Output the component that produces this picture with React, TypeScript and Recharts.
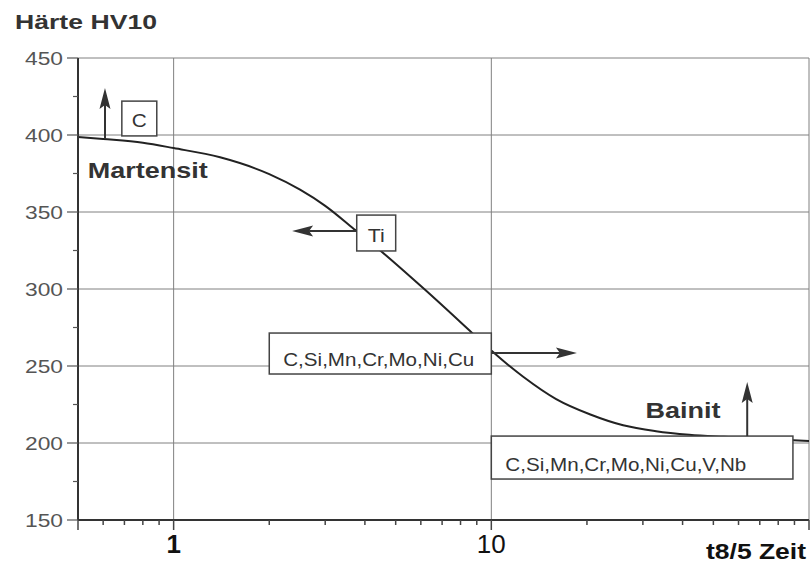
import React from "react";
import {
  LineChart,
  Line,
  XAxis,
  YAxis,
  CartesianGrid,
  ReferenceArea,
  ReferenceLine,
  ReferenceDot,
} from "recharts";

// t8/5 Abkühlzeit (s) und Härte HV10
const coolingTimes = [0.5, 0.6, 0.8, 1, 1.4, 2, 2.5, 3, 3.67, 4.5, 6.2, 8.7, 10, 12.6, 16, 20.5, 26, 33, 42, 54, 70, 100];
const hardness = [398.7, 397.4, 395, 391.5, 385.5, 374.6, 364.5, 354, 339.5, 324.5, 299.3, 271.5, 260, 243, 228.5, 218.5, 211.5, 207.7, 205.4, 204, 202.8, 201.3];

const xTicks = [0.5, 0.6, 0.7, 0.8, 0.9, 1, 2, 3, 4, 5, 6, 7, 8, 9, 10, 20, 30, 40, 50, 60, 70, 80, 90, 100];
const xTickLabels: Record<number, string> = { 1: "1", 10: "10" };
const xMajor = [0.5, 1, 10, 100];
const xGrid = [1, 10, 100];

const yTicks = [150, 175, 200, 225, 250, 275, 300, 325, 350, 375, 400, 425, 450];
const yGrid = [200, 250, 300, 350, 400, 450];

// Kästen mit Legierungselementen (Datenkoordinaten)
const boxes = [
  { text: "C", x1: 0.687, x2: 0.885, y1: 399.4, y2: 422 },
  { text: "Ti", x1: 3.77, x2: 5.0, y1: 324.7, y2: 348 },
  { text: "C,Si,Mn,Cr,Mo,Ni,Cu", x1: 2.0, x2: 10, y1: 244.8, y2: 271.4 },
  { text: "C,Si,Mn,Cr,Mo,Ni,Cu,V,Nb", x1: 10, x2: 89, y1: 176.6, y2: 204.5 },
];

// Pfeile: Start -> Spitze
const arrows = [
  { from: [0.608, 397.4], to: [0.608, 430.5] },
  { from: [3.77, 337.7], to: [2.36, 337.7] },
  { from: [10, 258.4], to: [18.6, 258.4] },
  { from: [63.9, 204.5], to: [63.9, 239.6] },
];

const phases = [
  { text: "Martensit", x: 0.537, y: 372 },
  { text: "Bainit", x: 30.6, y: 216 },
];

const data = coolingTimes.map((t, i) => ({ t, hv: hardness[i] }));

const FONT = "'Liberation Sans', Arial, sans-serif";
const textWidths: Record<string, number> = {
  C: 15,
  Ti: 17,
  "C,Si,Mn,Cr,Mo,Ni,Cu": 191,
  "C,Si,Mn,Cr,Mo,Ni,Cu,V,Nb": 241,
  Martensit: 120,
  Bainit: 75,
};

const XTick = (props: any) => {
  const { x, y, payload } = props;
  const v = payload.value;
  const major = xMajor.includes(v);
  const label = xTickLabels[v];
  return (
    <g>
      <line x1={x} x2={x} y1={y} y2={y + (major ? 10 : 5)} stroke="#444" strokeWidth={1.5} />
      {label && (
        <text
          x={x}
          y={y + 33}
          textAnchor="middle"
          fontFamily={FONT}
          fontSize={26}
          fontWeight={v === 1 ? 700 : 400}
          fill="#111"
        >
          {label}
        </text>
      )}
    </g>
  );
};

const YTick = (props: any) => {
  const { x, y, payload } = props;
  const v = payload.value;
  const major = v % 50 === 0;
  return (
    <g>
      <line x1={x} x2={x - (major ? 11 : 5)} y1={y} y2={y} stroke="#555" strokeWidth={1.2} />
      {major && (
        <text
          x={63}
          y={y + 7}
          textAnchor="end"
          fontFamily={FONT}
          fontSize={19}
          fill="#555"
          textLength={38}
          lengthAdjust="spacingAndGlyphs"
        >
          {v}
        </text>
      )}
    </g>
  );
};

const Arrow = (props: any) => {
  const { x1, y1, x2, y2 } = props;
  const dx = x2 - x1;
  const dy = y2 - y1;
  const len = Math.sqrt(dx * dx + dy * dy) || 1;
  const ux = dx / len;
  const uy = dy / len;
  const head = 21;
  const half = 5.5;
  const bx = x2 - ux * head;
  const by = y2 - uy * head;
  const pts = `${x2},${y2} ${bx - uy * half},${by + ux * half} ${bx + ux * 4},${by + uy * 4} ${bx + uy * half},${by - ux * half}`;
  return (
    <g>
      <line x1={x1} y1={y1} x2={bx + ux * 4} y2={by + uy * 4} stroke="#333" strokeWidth={2} />
      <polygon points={pts} fill="#333" />
    </g>
  );
};

const boxShape = (text: string) => (props: any) => {
  const { x, y, width, height } = props;
  const short = text.length <= 2;
  return (
    <g>
      <rect x={x} y={y} width={width} height={height} fill="#fff" stroke="#444" strokeWidth={1.5} />
      <text
        x={short ? x + width / 2 : x + 14}
        y={y + height - (short ? 9 : 8)}
        textAnchor={short ? "middle" : "start"}
        fontFamily={FONT}
        fontSize={18}
        fill="#333"
        textLength={textWidths[text]}
        lengthAdjust="spacingAndGlyphs"
      >
        {text}
      </text>
    </g>
  );
};

const phaseShape = (text: string) => (props: any) => {
  const { cx, cy } = props;
  return (
    <text
      x={cx}
      y={cy}
      fontFamily={FONT}
      fontSize={22}
      fontWeight={700}
      fill="#333"
      textLength={textWidths[text]}
      lengthAdjust="spacingAndGlyphs"
    >
      {text}
    </text>
  );
};

export default function App() {
  return (
    <div style={{ position: "absolute", left: 0, top: 0, width: 811, height: 563, background: "#fff" }}>
      <LineChart width={811} height={563} data={data} margin={{ top: 58, right: 2, bottom: 0, left: 0 }}>
        <CartesianGrid
          horizontalValues={yGrid}
          verticalValues={xGrid}
          stroke="#808080"
          strokeWidth={1}
        />
        <XAxis
          dataKey="t"
          type="number"
          scale="log"
          domain={[0.5, 100]}
          allowDataOverflow
          ticks={xTicks}
          interval={0}
          height={43}
          tickSize={0}
          tickMargin={0}
          tickLine={false}
          tick={<XTick />}
          axisLine={{ stroke: "#333", strokeWidth: 2 }}
        />
        <YAxis
          type="number"
          domain={[150, 450]}
          ticks={yTicks}
          interval={0}
          width={78}
          tickSize={0}
          tickMargin={0}
          tickLine={false}
          tick={<YTick />}
          axisLine={{ stroke: "#333", strokeWidth: 2 }}
        />
        <Line
          dataKey="hv"
          type="monotone"
          stroke="#222"
          strokeWidth={2}
          dot={false}
          isAnimationActive={false}
        />
        {boxes.map((b) => (
          <ReferenceArea
            key={b.text}
            x1={b.x1}
            x2={b.x2}
            y1={b.y1}
            y2={b.y2}
            shape={boxShape(b.text)}
            zIndex={450}
          />
        ))}
        {arrows.map((a, i) => (
          <ReferenceLine
            key={i}
            segment={[
              { x: a.from[0], y: a.from[1] },
              { x: a.to[0], y: a.to[1] },
            ]}
            shape={Arrow}
            zIndex={460}
          />
        ))}
        {phases.map((p) => (
          <ReferenceDot key={p.text} x={p.x} y={p.y} r={0} shape={phaseShape(p.text)} zIndex={470} />
        ))}
      </LineChart>
      <svg
        width={811}
        height={563}
        style={{ position: "absolute", left: 0, top: 0, pointerEvents: "none" }}
      >
        <text
          x={15}
          y={29}
          fontFamily={FONT}
          fontSize={19.5}
          fontWeight={700}
          fill="#333"
          textLength={142}
          lengthAdjust="spacingAndGlyphs"
        >
          Härte HV10
        </text>
        <text
          x={706}
          y={559}
          fontFamily={FONT}
          fontSize={22}
          fontWeight={700}
          fill="#111"
          textLength={100}
          lengthAdjust="spacingAndGlyphs"
        >
          t8/5 Zeit
        </text>
      </svg>
    </div>
  );
}
